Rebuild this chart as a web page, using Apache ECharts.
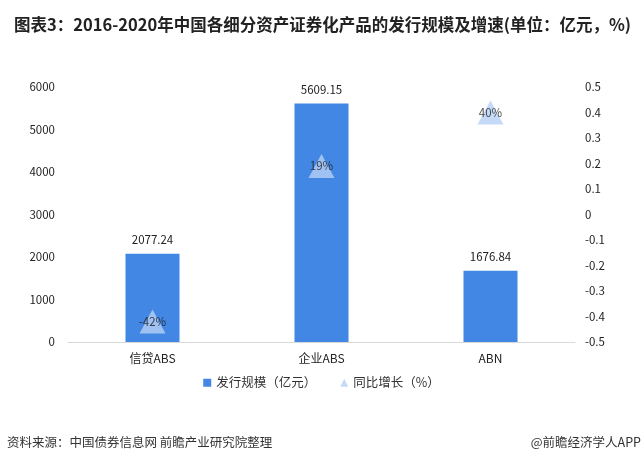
<!DOCTYPE html>
<html><head><meta charset="utf-8">
<script src="https://cdn.jsdelivr.net/npm/echarts@6/dist/echarts.min.js"></script>
<style>html,body{margin:0;padding:0;background:#fff}#c{width:643px;height:466px}</style>
</head><body><div id="c"></div>
<script>
const categories = ['信贷ABS', '企业ABS', 'ABN'];
const scaleValues = [2077.24, 5609.15, 1676.84];
const growthValues = [-0.42, 0.19, 0.40];
const growthLabels = ['-42%', '19%', '40%'];
const leftTicks = [0, 1000, 2000, 3000, 4000, 5000, 6000];
const rightTicks = [-0.5, -0.4, -0.3, -0.2, -0.1, 0, 0.1, 0.2, 0.3, 0.4, 0.5];

const font = 'Microsoft YaHei, "Noto Sans CJK SC", sans-serif';
const chart = echarts.init(document.getElementById('c'));
chart.setOption({
  backgroundColor: '#fff',
  animation: false,
  title: {
    text: '图表3：2016-2020年中国各细分资产证券化产品的发行规模及增速(单位：亿元，%)',
    left: 9, top: 11,
    textStyle: { fontSize: 16.5, fontWeight: 'bold', color: '#222', fontFamily: '"Liberation Sans Narrow", "Noto Sans CJK SC", sans-serif' }
  },
  graphic: [
    { type: 'text', left: 7, top: 436, style: { text: '资料来源：中国债券信息网 前瞻产业研究院整理', fontSize: 12.5, fill: '#333', fontFamily: font } },
    { type: 'text', right: 2, top: 436, style: { text: '@前瞻经济学人APP', fontSize: 12.5, fill: '#333', fontFamily: font } }
  ],
  legend: {
    bottom: 72, left: 'center', itemGap: 24, itemWidth: 8, itemHeight: 8,
    textStyle: { fontSize: 12.5, color: '#333', fontFamily: font },
    data: [
      { name: '发行规模（亿元）', icon: 'rect' },
      { name: '同比增长（%）', icon: 'triangle' }
    ]
  },
  grid: { left: 68, right: 68, top: 87, bottom: 124 },
  xAxis: {
    type: 'category', data: categories,
    axisLine: { lineStyle: { color: '#d9d9d9' } },
    axisTick: { show: false },
    axisLabel: { color: '#222', fontSize: 12, margin: 10, fontFamily: font }
  },
  yAxis: [
    {
      type: 'value', min: 0, max: 6000, interval: 1000,
      splitLine: { show: false }, axisLine: { show: false }, axisTick: { show: false },
      axisLabel: { color: '#222', fontSize: 11.5, margin: 13, fontFamily: font,
        formatter: v => String(v) }
    },
    {
      type: 'value', min: -0.5, max: 0.5, interval: 0.1,
      splitLine: { show: false }, axisLine: { show: false }, axisTick: { show: false },
      axisLabel: { color: '#222', fontSize: 11.5, margin: 10, align: 'left', fontFamily: font,
        formatter: v => String(Math.round(v * 10) / 10) }
    }
  ],
  series: [
    {
      name: '发行规模（亿元）', type: 'bar', data: scaleValues, barWidth: 54,
      itemStyle: { color: '#4187e3' },
      label: { show: true, position: 'top', distance: 8, color: '#222', fontSize: 11.5, fontFamily: font,
        formatter: p => p.value.toFixed(2) }
    },
    {
      name: '同比增长（%）', type: 'scatter', yAxisIndex: 1,
      data: growthValues, symbol: 'triangle', symbolSize: [26, 24],
      itemStyle: { color: '#b7d1f5' },
      label: { show: true, position: 'inside', color: '#222', fontSize: 11.5, fontFamily: font,
        formatter: p => growthLabels[p.dataIndex] }
    }
  ]
});
</script></body></html>
